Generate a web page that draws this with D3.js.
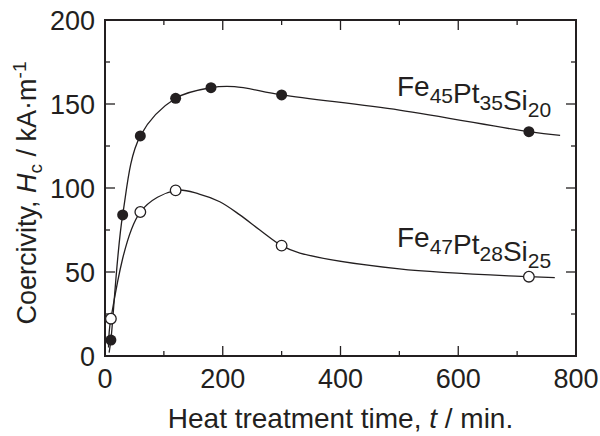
<!DOCTYPE html>
<html>
<head>
<meta charset="utf-8">
<script src="https://cdn.jsdelivr.net/npm/d3@7"></script>
<style>
  body { margin: 0; background: #fff; }
  text { font-family: "Liberation Sans", Arial, sans-serif; fill: #231f20; }
</style>
</head>
<body>
<div id="chart"></div>
<script>
var svgWidth = 600;
var svgHeight = 436;

var margin = { top: 20, right: 24, bottom: 80, left: 105 };
var width = svgWidth - margin.left - margin.right;
var height = svgHeight - margin.top - margin.bottom;

// measured points, Fe45Pt35Si20 (filled)
var timeA = [10, 30, 60, 120, 180, 300, 720];
var hcA = [9.5, 84, 131, 153.4, 159.7, 155.4, 133.5];
// measured points, Fe47Pt28Si25 (open)
var timeB = [10, 60, 120, 300, 720];
var hcB = [22.2, 85.7, 98.6, 65.7, 47.2];

// guide curves
var fitTimeA = [7, 10, 30, 60, 120, 180, 220, 300, 500, 720, 773];
var fitHcA = [2, 9.5, 84, 131, 153.4, 159.7, 160.3, 155.4, 146.4, 133.5, 131.3];
var fitTimeB = [6, 10, 60, 120, 160, 195, 229, 263, 300, 331, 500, 720, 764];
var fitHcB = [5, 22.2, 85.7, 98.6, 96.4, 91.8, 84, 75, 65.7, 61.3, 51.8, 47.2, 46.6];

var xTicks = [0, 200, 400, 600, 800];
var xMinor = [100, 300, 500, 700];
var yTicks = [0, 50, 100, 150, 200];
var yMinor = [25, 75, 125, 175];

var svg = d3.select("#chart")
  .append("svg")
  .attr("width", svgWidth)
  .attr("height", svgHeight);

var chartGroup = svg.append("g")
  .attr("transform", `translate(${margin.left}, ${margin.top})`);

var xScale = d3.scaleLinear().domain([0, 800]).range([0, width]);
var yScale = d3.scaleLinear().domain([0, 200]).range([height, 0]);

var ink = "#231f20";

// ticks, pointing inward on all four sides
function drawTicks(vals, len) {
  vals.forEach(function(v) {
    var x = xScale(v);
    chartGroup.append("line").attr("x1", x).attr("x2", x).attr("y1", height).attr("y2", height - len);
    chartGroup.append("line").attr("x1", x).attr("x2", x).attr("y1", 0).attr("y2", len);
  });
}
function drawYTicks(vals, len) {
  vals.forEach(function(v) {
    var y = yScale(v);
    chartGroup.append("line").attr("x1", 0).attr("x2", len).attr("y1", y).attr("y2", y);
    chartGroup.append("line").attr("x1", width).attr("x2", width - len).attr("y1", y).attr("y2", y);
  });
}
drawTicks(xTicks, 10);
drawTicks(xMinor, 5);
drawYTicks(yTicks, 10);
drawYTicks(yMinor, 5);
chartGroup.selectAll("line").attr("stroke", ink).attr("stroke-width", 1.3);

chartGroup.append("rect")
  .attr("width", width)
  .attr("height", height)
  .attr("fill", "none")
  .attr("stroke", ink)
  .attr("stroke-width", 2);

// tick labels
chartGroup.selectAll(".xlab")
  .data(xTicks)
  .enter()
  .append("text")
  .attr("x", d => xScale(d))
  .attr("y", height + 32)
  .attr("text-anchor", "middle")
  .style("font-size", "27px")
  .text(d => d);

chartGroup.selectAll(".ylab")
  .data(yTicks)
  .enter()
  .append("text")
  .attr("x", -10)
  .attr("y", d => yScale(d) + 10)
  .attr("text-anchor", "end")
  .style("font-size", "27px")
  .text(d => d);

// curves
var line = d3.line()
  .x(d => xScale(d[0]))
  .y(d => yScale(d[1]))
  .curve(d3.curveCatmullRom.alpha(0.5));

chartGroup.append("path")
  .datum(d3.zip(fitTimeA, fitHcA))
  .attr("d", line)
  .attr("fill", "none")
  .attr("stroke", ink)
  .attr("stroke-width", 1.3);

chartGroup.append("path")
  .datum(d3.zip(fitTimeB, fitHcB))
  .attr("d", line)
  .attr("fill", "none")
  .attr("stroke", ink)
  .attr("stroke-width", 1.3);

// markers
chartGroup.selectAll(".ptA")
  .data(d3.zip(timeA, hcA))
  .enter()
  .append("circle")
  .attr("cx", d => xScale(d[0]))
  .attr("cy", d => yScale(d[1]))
  .attr("r", 5.5)
  .attr("fill", ink);

chartGroup.selectAll(".ptB")
  .data(d3.zip(timeB, hcB))
  .enter()
  .append("circle")
  .attr("cx", d => xScale(d[0]))
  .attr("cy", d => yScale(d[1]))
  .attr("r", 5.3)
  .attr("fill", "#fff")
  .attr("stroke", ink)
  .attr("stroke-width", 1.3);

// composition labels
function formula(x, y, parts) {
  var t = svg.append("text").attr("x", x).attr("y", y).style("font-size", "28px");
  parts.forEach(function(p) {
    t.append("tspan").text(p[0]);
    t.append("tspan").attr("dy", 7).style("font-size", "21px").text(p[1]);
    t.append("tspan").attr("dy", -7).text("");
  });
}
formula(397, 96, [["Fe", "45"], ["Pt", "35"], ["Si", "20"]]);
formula(397, 247, [["Fe", "47"], ["Pt", "28"], ["Si", "25"]]);

// axis titles
var xTitle = svg.append("text")
  .attr("x", margin.left + width / 2)
  .attr("y", 428)
  .attr("text-anchor", "middle")
  .style("font-size", "28px");
xTitle.append("tspan").text("Heat treatment time, ");
xTitle.append("tspan").style("font-style", "italic").text("t");
xTitle.append("tspan").text(" / min.");

var yTitle = svg.append("text")
  .attr("transform", "translate(36, 193) rotate(-90)")
  .attr("text-anchor", "middle")
  .style("font-size", "27px");
yTitle.append("tspan").text("Coercivity, ");
yTitle.append("tspan").style("font-style", "italic").text("H");
yTitle.append("tspan").attr("dy", 6).style("font-size", "19px").text("c");
yTitle.append("tspan").attr("dy", -6).text(" / kA\u00b7m");
yTitle.append("tspan").attr("dy", -10).style("font-size", "19px").text("-1");
</script>
</body>
</html>
